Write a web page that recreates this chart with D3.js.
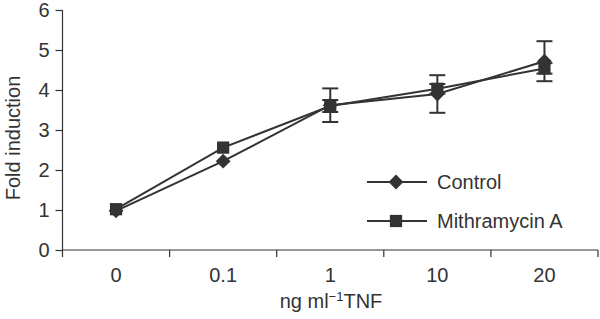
<!DOCTYPE html>
<html>
<head>
<meta charset="utf-8">
<script src="https://cdn.jsdelivr.net/npm/d3@7"></script>
<style>
  body { margin: 0; background: #fff; }
  svg { display: block; font-family: "Liberation Sans", Arial, sans-serif; }
</style>
</head>
<body>
<div id="chart"></div>
<script>
// data
const doses = ["0", "0.1", "1", "10", "20"];
const controlMean = [0.98, 2.22, 3.62, 3.9, 4.72];
const controlErr = [0, 0, 0.42, 0.47, 0.5];
const mithMean = [1.02, 2.56, 3.6, 4.03, 4.54];
const mithErr = [0, 0, 0.15, 0.12, 0.13];
const yTicks = [0, 1, 2, 3, 4, 5, 6];

const ink = "#333";
const fontSize = "20px";
const width = 600, height = 319;

const svg = d3.select("#chart").append("svg")
    .attr("width", width)
    .attr("height", height);

// scales
const x = d3.scaleBand()
    .domain(doses)
    .range([62.5, 598])
    .padding(0);

const y = d3.scaleLinear()
    .domain([0, 6])
    .range([250, 10]);

const cx = d => x(d) + x.bandwidth() / 2;

// y axis
const yAxis = svg.append("g")
    .attr("transform", `translate(${x.range()[0]},0)`)
    .call(d3.axisLeft(y).tickValues(yTicks).tickFormat(d3.format("d"))
        .tickSize(7).tickPadding(6).tickSizeOuter(0));
yAxis.select(".domain").remove();
yAxis.append("line")
    .attr("x1", 0).attr("x2", 0)
    .attr("y1", y(6)).attr("y2", y(0) + 7)
    .attr("stroke", ink).attr("stroke-width", 1.2);

// x axis (labels at band centers, ticks at band edges)
const xAxis = svg.append("g")
    .attr("transform", `translate(0,${y(0)})`)
    .call(d3.axisBottom(x).tickSize(0).tickPadding(18));
xAxis.select(".domain").remove();
xAxis.append("line")
    .attr("x1", x.range()[0]).attr("x2", x.range()[1])
    .attr("stroke", ink).attr("stroke-width", 1.2);
const edges = doses.slice(1).map(d => x(d)).concat([x.range()[1]]);
xAxis.selectAll(".edge")
    .data(edges)
    .enter().append("line")
    .attr("class", "edge")
    .attr("x1", d => d).attr("x2", d => d)
    .attr("y1", 0).attr("y2", 7)
    .attr("stroke", ink).attr("stroke-width", 1.2);

svg.selectAll(".tick line").attr("stroke", ink).attr("stroke-width", 1.2);
svg.selectAll(".tick text")
    .attr("fill", ink)
    .style("font-size", fontSize)
    .style("font-family", "'Liberation Sans', Arial, sans-serif");

// axis titles
svg.append("text")
    .attr("transform", `translate(20,${y(3) + 8}) rotate(-90)`)
    .attr("text-anchor", "middle")
    .attr("fill", ink)
    .style("font-size", fontSize)
    .text("Fold induction");

const xt = svg.append("text")
    .attr("x", 331)
    .attr("y", 308)
    .attr("text-anchor", "middle")
    .attr("fill", ink)
    .style("font-size", fontSize);
xt.append("tspan").text("ng ml");
xt.append("tspan").attr("dy", -7).style("font-size", "13px").text("\u22121");
xt.append("tspan").attr("dy", 7).text("TNF");

const series = [
    {name: "Control", mean: controlMean, err: controlErr, rot: 45, size: 110},
    {name: "Mithramycin A", mean: mithMean, err: mithErr, rot: 0, size: 150}
];

const line = d3.line()
    .x((d, i) => cx(doses[i]))
    .y(d => y(d));

series.forEach(s => {
    // error bars
    const eb = svg.append("g");
    doses.forEach((d, i) => {
        if (!s.err[i]) return;
        const px = cx(d);
        const hi = y(s.mean[i] + s.err[i]), lo = y(s.mean[i] - s.err[i]);
        eb.append("line").attr("x1", px).attr("x2", px).attr("y1", hi).attr("y2", lo);
        eb.append("line").attr("x1", px - 8).attr("x2", px + 8).attr("y1", hi).attr("y2", hi);
        eb.append("line").attr("x1", px - 8).attr("x2", px + 8).attr("y1", lo).attr("y2", lo);
    });
    eb.selectAll("line").attr("stroke", ink).attr("stroke-width", 2);

    svg.append("path")
        .datum(s.mean)
        .attr("fill", "none")
        .attr("stroke", ink)
        .attr("stroke-width", 2)
        .attr("d", line);

    svg.selectAll(null)
        .data(s.mean)
        .enter().append("path")
        .attr("transform", (d, i) => `translate(${cx(doses[i])},${y(d)}) rotate(${s.rot})`)
        .attr("d", d3.symbol().type(d3.symbolSquare).size(s.size))
        .attr("fill", ink);
});

// legend
const legend = svg.append("g").attr("transform", "translate(367,182)");
series.forEach((s, i) => {
    const g = legend.append("g").attr("transform", `translate(0,${i * 39})`);
    g.append("line")
        .attr("x1", 0).attr("x2", 60)
        .attr("stroke", ink).attr("stroke-width", 2);
    g.append("path")
        .attr("transform", `translate(29,0) rotate(${s.rot})`)
        .attr("d", d3.symbol().type(d3.symbolSquare).size(s.size))
        .attr("fill", ink);
    g.append("text")
        .attr("x", 70)
        .attr("dy", "0.35em")
        .attr("fill", ink)
        .style("font-size", fontSize)
        .text(s.name);
});
</script>
</body>
</html>
